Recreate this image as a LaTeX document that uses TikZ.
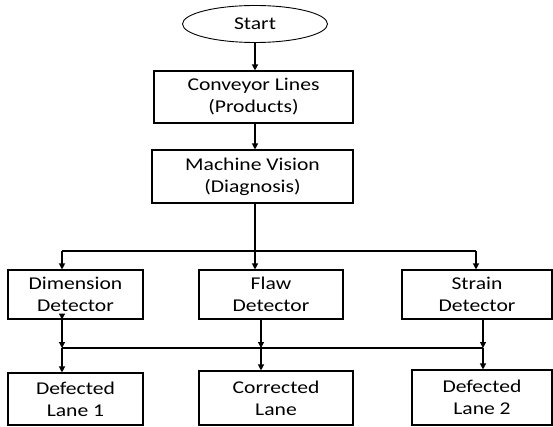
\documentclass[tikz,border=0pt]{standalone}
\usepackage{fontspec}
\setmainfont{Carlito}[FakeStretch=1.2]
\usetikzlibrary{arrows.meta,shapes.geometric}
\begin{document}
\begin{tikzpicture}[x=1pt,y=1pt,
	stepbox/.style={draw,line width=1.1pt,inner sep=0pt,align=center,font=\fontsize{18}{22}\selectfont},
	arr/.style={line width=1.2pt,-{Triangle[length=6pt,width=6pt]}},
	plain/.style={line width=1.2pt}]
	\useasboundingbox (0,0) rectangle (553,-427);
	%Start and the two upper boxes
	\node [ellipse,draw,line width=0.9pt,minimum width=145,minimum height=37,inner sep=0pt,font=\fontsize{18}{22}\selectfont] (start) at (255,-24) {Start};
	\node [stepbox,minimum width=199,minimum height=52] (conv) at (253.5,-97) {Conveyor Lines\\(Products)};
	\node [stepbox,minimum width=201,minimum height=53] (mv) at (252.5,-176.5) {Machine Vision\\(Diagnosis)};
	%Detectors
	\node [stepbox,minimum width=135,minimum height=49] (dim) at (75.5,-294.5) {Dimension\\Detector};
	\node [stepbox,minimum width=144,minimum height=49] (flaw) at (271,-294.5) {Flaw\\Detector};
	\node [stepbox,minimum width=150,minimum height=49] (strain) at (477,-294.5) {Strain\\Detector};
	%Lanes
	\node [stepbox,minimum width=135,minimum height=52] (def1) at (75.5,-399) {Defected\\Lane 1};
	\node [stepbox,minimum width=154,minimum height=54] (corr) at (276,-398) {Corrected\\Lane};
	\node [stepbox,minimum width=140,minimum height=55] (def2) at (482,-397.5) {Defected\\Lane 2};
	%Top chain
	\draw [arr] (start.south) -- (start.south |- conv.north);
	\coordinate (cx) at (255,-123);
	\draw [arr] (cx) -- (cx |- mv.north);
	%Split to the detectors
	\coordinate (split) at (255,-251);
	\coordinate (jl) at (62,-251);
	\coordinate (jr) at (476,-251);
	\draw [plain] (split |- mv.south) -- (split);
	\draw [plain] (jl) -- (jr);
	\draw [arr] (jl) -- (jl |- dim.north);
	\draw [arr] (split) -- (split |- flaw.north);
	\draw [arr] (jr) -- (jr |- strain.north);
	%Join to the lanes
	\coordinate (ml) at (62,-348);
	\coordinate (mm) at (261,-348);
	\coordinate (mr) at (483,-348);
	\draw [plain] (ml) -- (mr);
	\draw [arr] ([yshift=6pt]ml |- dim.south) -- (ml |- dim.south);
	\draw [arr] (ml |- dim.south) -- (ml);
	\draw [arr] (mm |- flaw.south) -- (mm);
	\draw [arr] (mr |- strain.south) -- (mr);
	\draw [arr] (ml) -- (ml |- def1.north);
	\draw [arr] (mm) -- (mm |- corr.north);
	\draw [arr] (mr) -- (mr |- def2.north);
\end{tikzpicture}
\end{document}
